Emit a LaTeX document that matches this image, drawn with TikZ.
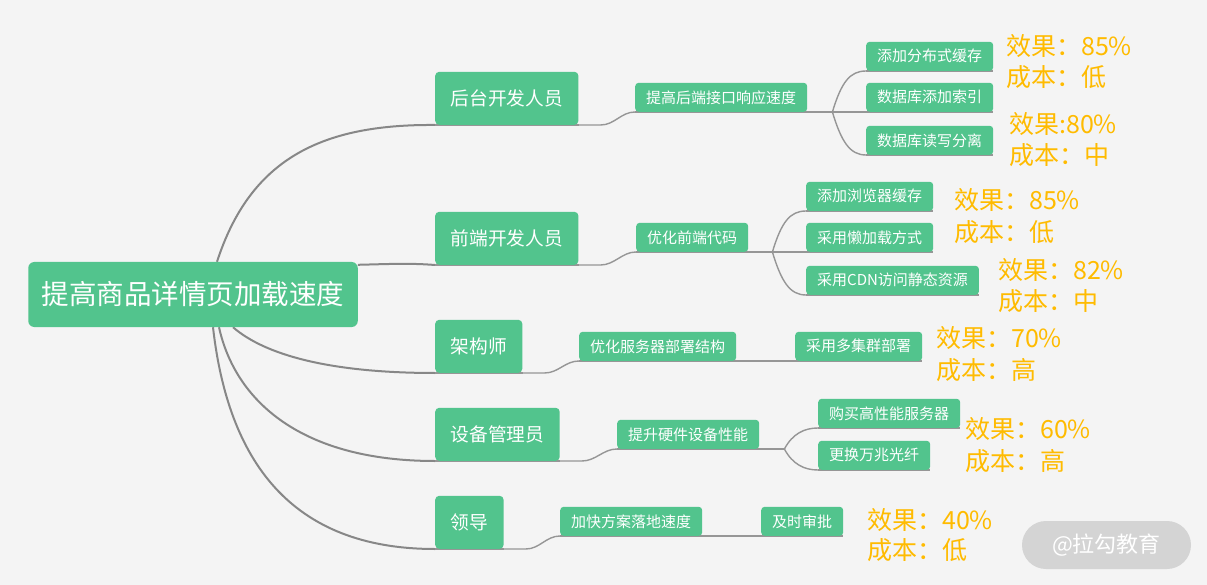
\documentclass[tikz,border=0pt]{standalone}
\usepackage{fontspec}
\newfontfamily\cjk{Noto Sans CJK SC}
\usetikzlibrary{calc}
\definecolor{bgc}{RGB}{244,244,244}
\definecolor{gr}{RGB}{82,196,141}
\definecolor{lnc}{RGB}{135,135,135}
\definecolor{lnd}{RGB}{150,150,150}
\definecolor{org}{RGB}{255,187,0}
\definecolor{wmc}{RGB}{212,212,212}
\pgfdeclarelayer{bg}\pgfdeclarelayer{lines}\pgfsetlayers{bg,lines,main}
\tikzset{
 box/.style={fill=gr, text=white, rounded corners=4pt, inner ysep=0pt},
 rootbox/.style={box, font=\cjk\fontsize{27.5}{30}\selectfont, minimum height=65pt, inner xsep=13.5pt, rounded corners=6pt},
 lonebox/.style={box, font=\cjk\fontsize{18.7}{22}\selectfont, minimum height=53pt, inner xsep=15.5pt, anchor=south west},
 ltwobox/.style={box, font=\cjk\fontsize{15}{18}\selectfont, minimum height=29pt, inner xsep=11pt, anchor=south west, rounded corners=3.5pt},
 note/.style={text=org, font=\cjk\fontsize{25}{28}\selectfont, anchor=west, inner sep=0pt},
 trunk/.style={draw=lnc, line width=2pt},
 twig/.style={draw=lnd, line width=1.4pt},
}
\begin{document}
\begin{tikzpicture}[x=1pt,y=-1pt]
\begin{pgfonlayer}{bg}
\fill[bgc] (0,0) rectangle (1207,585);
\end{pgfonlayer}
\useasboundingbox (0,0) rectangle (1207,585);

% nodes
\node[rootbox] (root) at (193,294.5) {提高商品详情页加载速度};

\node[lonebox] (hou) at (435,125) {后台开发人员};
\node[lonebox] (qian) at (435,265) {前端开发人员};
\node[lonebox] (jia) at (435,373) {架构师};
\node[lonebox] (she) at (435,461) {设备管理员};
\node[lonebox] (ling) at (435,549) {领导};

\node[ltwobox] (a) at (635,112) {提高后端接口响应速度};
\node[ltwobox] (a1) at (866,71) {添加分布式缓存};
\node[ltwobox] (a2) at (866,112) {数据库添加索引};
\node[ltwobox] (a3) at (866,155) {数据库读写分离};

\node[ltwobox] (b) at (636,252) {优化前端代码};
\node[ltwobox] (b1) at (806,211) {添加浏览器缓存};
\node[ltwobox] (b2) at (806,252) {采用懒加载方式};
\node[ltwobox] (b3) at (806,295) {采用CDN访问静态资源};

\node[ltwobox] (c) at (579,361) {优化服务器部署结构};
\node[ltwobox] (c1) at (795,361) {采用多集群部署};

\node[ltwobox] (d) at (617,449) {提升硬件设备性能};
\node[ltwobox] (d1) at (818,428) {购买高性能服务器};
\node[ltwobox] (d2) at (818,470) {更换万兆光纤};

\node[ltwobox] (e) at (560,536) {加快方案落地速度};
\node[ltwobox] (e1) at (761,536) {及时审批};

% annotations
\node[note] (n1a) at (1006,46) {效果：85\%};
\node[note] (n1b) at (1006,77) {成本：低};
\node[note] (n2a) at (1009,124) {效果:80\%};
\node[note] (n2b) at (1009,155) {成本：中};
\node[note] (n3a) at (954,200) {效果：85\%};
\node[note] (n3b) at (954,232) {成本：低};
\node[note] (n4a) at (998,270) {效果：82\%};
\node[note] (n4b) at (998,301) {成本：中};
\node[note] (n5a) at (936,338) {效果：70\%};
\node[note] (n5b) at (936,370) {成本：高};
\node[note] (n6a) at (965,429) {效果：60\%};
\node[note] (n6b) at (965,461) {成本：高};
\node[note] (n7a) at (867,520) {效果：40\%};
\node[note] (n7b) at (867,550) {成本：低};

% watermark
\node[fill=wmc, rounded corners=24pt, minimum width=169pt, minimum height=48pt, inner sep=0pt, text=white, font=\cjk\fontsize{22}{24}\selectfont] (wm) at (1106.5,545) {@拉勾教育};

\coordinate (ab) at ($(a.south east)+(25,0)$);
\coordinate (bb) at ($(b.south east)+(24,0)$);
\coordinate (db) at ($(d.south east)+(25,0)$);

\begin{pgfonlayer}{lines}
% trunk curves
\draw[trunk] ([xshift=24pt]root.north) .. controls (250,160) and (320,124) .. (hou.south west);
\draw[trunk] ($(root.north east)+(0,3)$) .. controls (390,264) and (410,263) .. (qian.south west);
\draw[trunk] ([xshift=40pt]root.south) .. controls (265,355) and (330,373) .. (jia.south west);
\draw[trunk] ([xshift=26pt]root.south) .. controls (235,400) and (300,461) .. (she.south west);
\draw[trunk] ([xshift=20pt]root.south) .. controls (228,460) and (290,549) .. (ling.south west);
% underlines
\foreach \n in {hou,qian,jia,she,ling,a,a1,a2,a3,b,b1,b2,b3,c,c1,d,d1,d2,e,e1}
  \draw[twig] (\n.south west) -- (\n.south east);
% level 1 -> level 2
\foreach \p/\q in {hou/a,qian/b,jia/c,she/d,ling/e}
  \draw[twig] (\p.south east) -- ++(22,0) .. controls +(14,0) and +(-14,0) .. (\q.south west);
% branches
\draw[twig] (a.south east) -- (ab);
\draw[twig] (ab) .. controls +(9,-30) and +(-16,0) .. (a1.south west);
\draw[twig] (ab) -- (a2.south west);
\draw[twig] (ab) .. controls +(9,30) and +(-16,0) .. (a3.south west);
\draw[twig] (b.south east) -- (bb);
\draw[twig] (bb) .. controls +(9,-30) and +(-16,0) .. (b1.south west);
\draw[twig] (bb) -- (b2.south west);
\draw[twig] (bb) .. controls +(9,30) and +(-16,0) .. (b3.south west);
\draw[twig] (c.south east) -- (c1.south west);
\draw[twig] (d.south east) -- (db);
\draw[twig] (db) .. controls +(8,-15) and +(-14,0) .. (d1.south west);
\draw[twig] (db) .. controls +(8,15) and +(-14,0) .. (d2.south west);
\draw[twig] (e.south east) -- (e1.south west);
\end{pgfonlayer}
\end{tikzpicture}
\end{document}
